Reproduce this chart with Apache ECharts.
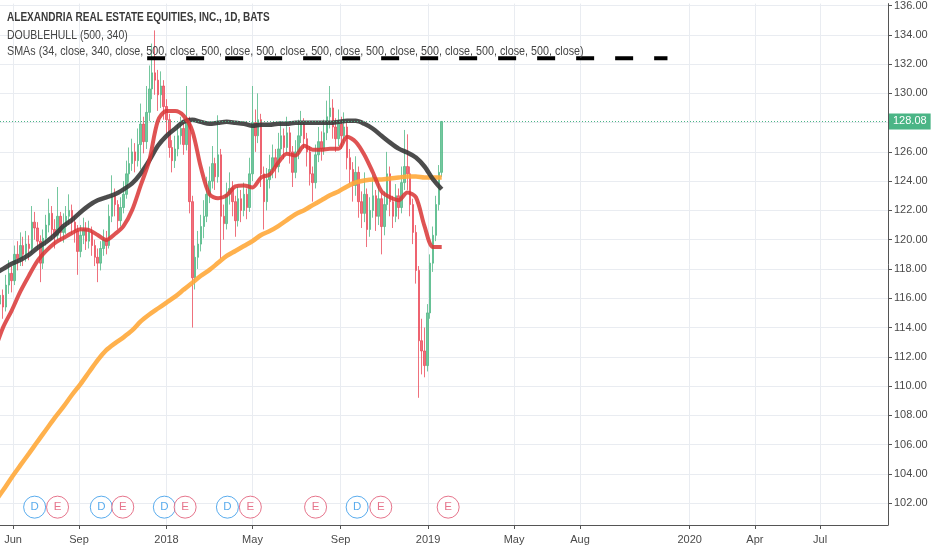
<!DOCTYPE html>
<html><head><meta charset="utf-8">
<script src="https://cdn.jsdelivr.net/npm/echarts@6.0.0/dist/echarts.min.js"></script>
<style>html,body{margin:0;padding:0;background:#fff}#c{width:932px;height:550px}</style>
</head><body><div id="c"></div>
<script>
// ---------- data ----------
const titleLines = ['ALEXANDRIA REAL ESTATE EQUITIES, INC., 1D, BATS', 'DOUBLEHULL (500, 340)',
  'SMAs (34, close, 340, close, 500, close, 500, close, 500, close, 500, close, 500, close, 500, close, 500, close, 500, close)'];

const xTickDates = ['2017-06-01','2017-09-01','2018-01-01','2018-05-01','2018-09-01','2019-01-01','2019-05-01','2019-08-01','2020-01-01','2020-04-01','2020-07-01'];
const xTickLabels = ['Jun','Sep','2018','May','Sep','2019','May','Aug','2020','Apr','Jul'];
const yTicks = [102,104,106,108,110,112,114,116,118,120,122,124,126,128,130,132,134,136];

// candles: one per 4 calendar days starting at candleStart; [open, close, low, high]
const candleStart = '2017-05-10';
const candleStepDays = 4;
const ohlc = [
[114.2,115.6,113.7,116.4],[115.6,116.2,115.0,117.1],[116.2,115.4,114.6,116.6],[115.4,116.9,115.1,117.6],
[116.9,117.7,116.3,118.6],[117.7,117.2,116.4,118.2],[117.2,119.0,116.9,119.6],[119.0,118.7,117.9,119.9],
[118.7,119.6,118.2,120.5],[119.6,119.0,118.2,120.2],[119.0,119.7,118.5,120.6],[119.7,119.4,118.6,120.3],
[119.4,121.2,119.1,122.3],[121.2,120.8,120.0,121.9],[120.8,119.9,119.3,121.2],[119.9,118.4,117.1,120.3],
[118.4,120.1,118.0,120.7],[120.1,121.0,119.6,121.7],[121.0,121.8,120.5,122.8],[121.8,120.7,120.0,122.3],
[120.7,120.3,119.4,121.4],[120.3,121.6,120.0,123.6],[121.6,120.5,119.9,121.9],[120.5,120.9,119.8,121.8],
[120.9,121.6,120.4,122.3],[121.6,122.0,121.0,123.1],[122.0,121.2,120.4,122.4],[121.2,120.6,119.8,121.6],
[120.6,119.2,117.6,121.0],[119.2,120.3,118.8,121.0],[120.3,120.7,119.7,121.5],[120.7,119.9,119.3,121.2],
[119.9,120.5,119.4,121.3],[120.5,119.6,118.9,120.9],[119.6,118.8,118.2,120.0],[118.8,118.4,117.1,119.4],
[118.4,119.4,117.9,119.9],[119.4,120.0,118.9,120.7],[120.0,119.6,119.0,120.6],[119.6,121.6,119.4,122.4],
[121.6,123.0,121.2,124.4],[123.0,122.4,121.6,123.5],[122.4,121.3,120.7,122.7],[121.3,122.2,120.9,122.9],
[122.2,123.1,121.8,124.0],[123.1,124.5,122.8,125.4],[124.5,125.2,123.9,126.3],[125.2,126.0,124.7,126.9],
[126.0,125.4,124.6,126.6],[125.4,126.5,125.0,127.6],[126.5,127.9,124.8,129.3],[127.9,126.7,125.9,128.4],
[126.7,128.7,126.2,130.5],[128.7,130.3,128.1,131.9],[130.3,131.4,129.6,133.4],[131.4,130.9,129.9,134.3],
[130.9,129.9,128.8,131.6],[129.9,130.5,129.0,131.5],[130.5,129.1,128.2,130.9],[129.1,128.2,127.1,129.6],
[128.2,126.3,125.6,128.6],[126.3,125.4,124.6,126.8],[125.4,126.2,124.9,127.1],[126.2,127.1,125.7,127.9],
[127.1,127.6,126.5,128.4],[127.6,126.5,125.8,128.0],[126.5,128.0,126.1,130.5],[128.0,122.6,121.8,128.4],
[122.6,117.4,114.0,123.0],[117.4,118.8,116.6,119.6],[118.8,119.7,118.0,120.6],[119.7,120.9,119.2,121.7],
[120.9,121.6,120.1,122.7],[121.6,123.1,121.2,124.3],[123.1,124.0,122.5,125.0],[124.0,125.2,123.5,126.4],
[125.2,124.3,123.4,125.6],[124.3,125.8,123.9,128.5],[125.8,121.6,118.7,126.2],[121.6,121.1,120.0,122.4],
[121.1,123.1,120.7,123.9],[123.1,123.5,122.4,124.6],[123.5,122.6,121.6,124.0],[122.6,121.3,120.2,123.0],
[121.3,122.8,120.9,123.6],[122.8,122.0,121.2,123.4],[122.0,123.1,121.6,123.9],[123.1,122.2,121.4,123.5],
[122.2,124.5,121.9,125.6],[124.5,128.0,124.0,130.5],[128.0,127.1,126.0,128.9],[127.1,128.2,126.6,130.0],
[128.2,124.5,123.6,128.6],[124.5,122.6,120.7,125.0],[122.6,124.1,122.0,124.9],[124.1,124.8,123.5,125.8],
[124.8,125.6,124.2,126.5],[125.6,125.0,124.2,126.2],[125.0,126.2,124.6,127.3],[126.2,127.1,125.7,128.1],
[127.1,126.3,125.5,127.6],[126.3,127.3,125.9,128.4],[127.3,126.0,125.2,127.7],[126.0,124.6,123.6,126.4],
[124.6,126.0,124.2,126.8],[126.0,127.1,125.5,128.2],[127.1,127.9,126.6,128.8],[127.9,126.9,126.2,128.3],
[126.9,126.0,125.0,127.3],[126.0,124.5,123.7,126.4],[124.5,123.9,122.6,125.0],[123.9,125.8,123.5,126.5],
[125.8,126.7,125.3,127.7],[126.7,126.2,125.4,127.4],[126.2,127.3,125.8,128.2],[127.3,128.4,126.8,129.5],
[128.4,129.0,127.6,130.5],[129.0,127.7,126.9,129.6],[127.7,126.9,126.0,128.3],[126.9,127.9,126.4,128.9],
[127.9,127.1,126.2,128.4],[127.1,127.7,126.6,128.7],[127.7,125.6,124.8,128.0],[125.6,124.8,123.8,126.2],
[124.8,123.7,122.6,125.3],[123.7,124.6,123.0,125.7],[124.6,122.6,121.5,125.0],[122.6,121.8,120.8,123.3],
[121.8,123.1,121.2,124.6],[123.1,120.7,119.5,123.5],[120.7,122.0,120.2,122.9],[122.0,123.0,121.5,124.4],
[123.0,121.6,120.6,123.4],[121.6,122.8,121.0,124.0],[122.8,120.9,119.0,123.2],[120.9,122.4,120.3,123.3],
[122.4,124.5,122.0,126.0],[124.5,122.6,121.6,125.0],[122.6,121.6,120.8,123.0],[121.6,123.0,121.2,123.8],
[123.0,122.2,121.4,123.5],[122.2,123.9,121.8,125.0],[123.9,125.0,123.4,127.5],[125.0,124.5,123.4,127.2],
[124.5,122.4,121.6,125.0],[122.4,120.5,119.7,122.8],[120.5,117.9,117.0,121.0],[117.9,113.1,109.2,118.2],
[113.1,112.4,110.8,114.6],[112.4,111.4,110.6,114.0],[111.4,115.0,111.0,115.6],[115.0,118.4,114.6,119.0],
[118.4,120.3,117.8,120.9],[120.3,122.4,119.9,123.0],[122.4,124.6,122.0,125.1],[124.6,128.08,124.3,128.1]
];

// indicator lines: one point per 12 calendar days starting at lineStart
const lineStart = '2017-05-06';
const lineStepDays = 12;
const sma34 = [112.38,114.01,115.16,116.45,117.54,118.55,119.23,119.77,120.11,120.45,
 120.72,120.66,120.32,119.98,120.39,120.93,122.02,123.71,125.41,128.12,
 128.79,128.79,128.46,127.44,124.93,123.10,122.83,123.03,123.64,123.71,
 123.57,124.25,124.46,125.27,125.88,125.75,126.42,126.15,126.15,126.22,
 126.22,127.03,126.69,125.81,124.59,123.30,122.90,122.70,123.23,122.90,
 120.93,119.50,119.50];
const doubleHull = [117.67,118.01,118.35,118.62,118.96,119.44,119.84,120.32,120.93,121.34,
 121.88,122.35,122.69,122.90,123.10,123.44,123.85,124.52,125.41,126.42,
 127.10,127.58,128.05,128.19,128.05,127.92,127.99,128.05,127.99,127.92,
 127.78,127.85,127.85,127.92,127.92,127.99,127.99,127.99,127.99,127.99,
 128.05,128.12,128.12,127.92,127.58,127.10,126.63,126.22,125.95,125.61,
 125.00,124.12,123.44];
const sma500 = [102.07,102.88,103.76,104.58,105.39,106.21,107.02,107.83,108.58,109.39,
 110.14,110.96,111.77,112.45,112.92,113.33,113.80,114.42,114.89,115.30,
 115.70,116.11,116.59,117.06,117.54,117.94,118.42,118.89,119.23,119.57,
 119.91,120.32,120.59,120.93,121.34,121.74,122.02,122.36,122.69,123.03,
 123.30,123.64,123.91,124.05,124.12,124.12,124.18,124.25,124.32,124.32,
 124.25,124.25,124.25];

// dashed projection line
const dashDates = ['2017-12-05','2019-12-01'];
const dashLevel = 132.39;

// events (D = dividend, E = earnings)
const eventDates = ['2017-07-01','2017-08-02','2017-10-02','2017-11-01','2017-12-29','2018-01-27','2018-03-27','2018-04-28','2018-07-28','2018-09-24','2018-10-27','2019-01-29'];
const eventTypes = ['D','E','D','E','D','E','D','E','E','D','E','E'];
const eventLevel = 101.73;

// ---------- build ----------
const DAY = 86400000;
const t = s => Date.parse(s + 'T00:00:00Z');
const xMin = Date.parse('2017-05-13T16:30:00Z');
const xMax = Date.parse('2020-10-03T16:50:00Z');
const xTickTs = xTickDates.map(t);
const lastClose = ohlc[ohlc.length - 1][1];
const yLabelVals = yTicks.filter(v => Math.abs(v - lastClose) > 1);

const candleData = ohlc.map((r, i) => [t(candleStart) + i * candleStepDays * DAY, r[0], r[1], r[2], r[3]]);
const lineData = arr => arr.map((v, k) => [t(lineStart) + k * lineStepDays * DAY, v]);
const evColor = {D: '#3197e8', E: '#e0536f'};
const eventData = eventDates.map((d, i) => ({
  value: [t(d), eventLevel],
  itemStyle: {borderColor: evColor[eventTypes[i]]},
  label: {color: evColor[eventTypes[i]]}
}));

const AXF = "'Liberation Sans', Arial, sans-serif";
const headerText = (txt, y, size, weight, sx, color) => ({
  type: 'text', x: 7, y: y, scaleX: sx, scaleY: 1, z: 100, silent: true,
  style: {text: txt, fontFamily: AXF, fontSize: size, fontWeight: weight, fill: color,
          align: 'left', verticalAlign: 'middle', textAlign: 'left', textVerticalAlign: 'middle'}
});

const chart = echarts.init(document.getElementById('c'), null, {renderer: 'canvas'});
chart.setOption({
  animation: false,
  backgroundColor: '#ffffff',
  graphic: [
    headerText(titleLines[0], 17.2, 12.3, 'bold', 0.816, '#3a3a3a'),
    headerText(titleLines[1], 35, 12.8, 'normal', 0.82, '#454545'),
    headerText(titleLines[2], 51.6, 12.8, 'normal', 0.84, '#454545')
  ],
  grid: {left: 0, right: 44, top: 0, bottom: 25, containLabel: false},
  xAxis: {
    type: 'value', min: xMin, max: xMax, scale: true,
    axisLine: {show: true, onZero: false, lineStyle: {color: '#555', width: 1}},
    axisTick: {show: true, customValues: xTickTs, length: 4, lineStyle: {color: '#555'}},
    axisLabel: {customValues: xTickTs, color: '#4a4a4a', fontSize: 11, fontFamily: AXF, margin: 9,
      formatter: v => { const i = xTickTs.findIndex(x => Math.abs(x - v) < DAY); return i >= 0 ? xTickLabels[i] : ''; }},
    splitLine: {show: true, lineStyle: {color: '#e9ecf1', width: 1}}
  },
  yAxis: {
    type: 'value', position: 'right', min: 100.51, max: 136.13, scale: true,
    axisLine: {show: true, lineStyle: {color: '#555', width: 1}},
    axisTick: {show: true, customValues: yTicks, length: 4, lineStyle: {color: '#555'}},
    axisLabel: {customValues: yLabelVals, color: '#4a4a4a', fontSize: 11, fontFamily: AXF, margin: 6,
      formatter: v => Number(v).toFixed(2)},
    splitLine: {show: true, lineStyle: {color: '#e9ecf1', width: 1}}
  },
  series: [
    {
      type: 'candlestick', name: 'ARE', data: candleData, encode: {x: 0, y: [1, 2, 3, 4]},
      barWidth: 2, z: 2,
      itemStyle: {color: '#53b987', color0: '#eb4d5c', borderColor: '#53b987', borderColor0: '#eb4d5c', borderWidth: 1, opacity: 0.8},
      markLine: {
        symbol: ['none', 'none'], silent: true, animation: false,
        data: [{yAxis: lastClose}],
        lineStyle: {color: '#4bb586', type: [1, 2], width: 1},
        label: {show: true, position: 'end', distance: 1, formatter: lastClose.toFixed(2), color: '#fff',
          backgroundColor: '#4bb586', padding: [3, 4, 2, 4], fontSize: 11, fontFamily: AXF}
      }
    },
    {type: 'line', name: 'SMA 500', data: lineData(sma500), showSymbol: false, smooth: 0.3, z: 3,
     lineStyle: {color: '#ffa93a', width: 4.5, opacity: 0.9}},
    {type: 'line', name: 'DOUBLEHULL', data: lineData(doubleHull), showSymbol: false, smooth: 0.3, z: 4,
     lineStyle: {color: '#383838', width: 4.5, opacity: 0.9}},
    {type: 'line', name: 'SMA 34', data: lineData(sma34), showSymbol: false, smooth: 0.3, z: 5,
     lineStyle: {color: '#d93535', width: 4, opacity: 0.85}},
    {type: 'line', name: 'dash', data: dashDates.map(d => [t(d), dashLevel]), showSymbol: false, z: 6,
     lineStyle: {color: '#000', width: 4, type: [18, 21], cap: 'butt'}},
    {type: 'scatter', name: 'events', data: eventData, symbol: 'circle', symbolSize: 22, z: 7,
     itemStyle: {color: '#fff', borderWidth: 1},
     label: {show: true, position: 'inside', fontSize: 11.5, fontFamily: AXF,
       formatter: p => eventTypes[p.dataIndex]}}
  ]
});
</script></body></html>
